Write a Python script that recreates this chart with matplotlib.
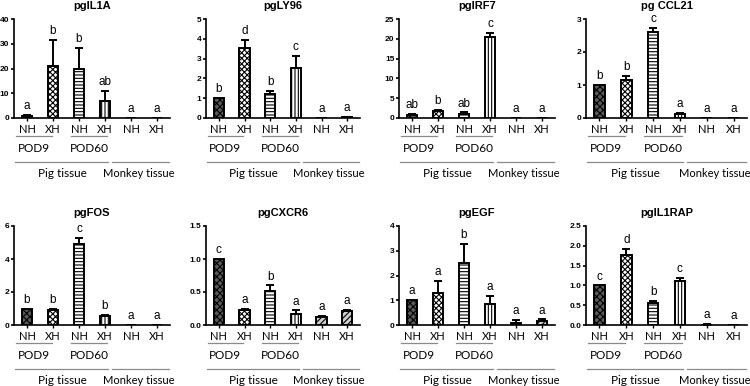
import matplotlib
matplotlib.use("Agg")
import matplotlib.pyplot as plt
import matplotlib.transforms as mtransforms

plt.rcParams['font.family'] = ['Liberation Sans', 'DejaVu Sans']
plt.rcParams['hatch.linewidth'] = 0.8

groups = ["NH", "XH", "NH", "XH", "NH", "XH"]

titles = ["pgIL1A", "pgLY96", "pgIRF7", "pg CCL21",
          "pgFOS", "pgCXCR6", "pgEGF", "pgIL1RAP"]

il1a_vals = [0.8, 21.0, 19.7, 7.0, 0.0, 0.0]
il1a_err = [0.3, 10.5, 8.6, 3.8, 0.0, 0.0]
il1a_let = ["a", "b", "b", "ab", "a", "a"]

ly96_vals = [1.0, 3.55, 1.22, 2.55, 0.0, 0.03]
ly96_err = [0.0, 0.38, 0.13, 0.6, 0.0, 0.02]
ly96_let = ["b", "d", "b", "c", "a", "a"]

irf7_vals = [0.8, 1.8, 0.9, 20.4, 0.0, 0.0]
irf7_err = [0.2, 0.2, 0.5, 1.1, 0.0, 0.0]
irf7_let = ["ab", "b", "ab", "c", "a", "a"]

ccl21_vals = [1.0, 1.15, 2.6, 0.13, 0.0, 0.0]
ccl21_err = [0.0, 0.12, 0.12, 0.03, 0.0, 0.0]
ccl21_let = ["b", "b", "c", "a", "a", "a"]

fos_vals = [1.0, 0.9, 4.9, 0.55, 0.0, 0.0]
fos_err = [0.0, 0.07, 0.4, 0.05, 0.0, 0.0]
fos_let = ["b", "b", "c", "b", "a", "a"]

cxcr6_vals = [1.0, 0.22, 0.52, 0.17, 0.12, 0.21]
cxcr6_err = [0.0, 0.02, 0.08, 0.05, 0.02, 0.02]
cxcr6_let = ["c", "a", "b", "a", "a", "a"]

egf_vals = [1.0, 1.3, 2.5, 0.85, 0.1, 0.15]
egf_err = [0.0, 0.48, 0.78, 0.33, 0.12, 0.08]
egf_let = ["a", "a", "b", "a", "a", "a"]

il1rap_vals = [1.0, 1.77, 0.55, 1.1, 0.01, 0.0]
il1rap_err = [0.0, 0.15, 0.06, 0.08, 0.01, 0.0]
il1rap_let = ["c", "d", "b", "c", "a", "a"]

ymax = [40, 5, 25, 3, 6, 1.5, 4, 2.5]
ystep = [10, 1, 5, 1, 2, 0.5, 1, 0.5]

all_vals = [il1a_vals, ly96_vals, irf7_vals, ccl21_vals,
            fos_vals, cxcr6_vals, egf_vals, il1rap_vals]
all_err = [il1a_err, ly96_err, irf7_err, ccl21_err,
           fos_err, cxcr6_err, egf_err, il1rap_err]
all_let = [il1a_let, ly96_let, irf7_let, ccl21_let,
           fos_let, cxcr6_let, egf_let, il1rap_let]

faces = ["#5a5a5a", "white", "white", "white", "#d0d0d0", "#d0d0d0"]
hatches = ["xxxxx", "xxxxxx", "-----", "|||||", "//////", "//////"]

fig = plt.figure(figsize=(7.5, 3.86), dpi=100)
W, H = 750.0, 386.0
lefts = [14, 206, 399, 586]
widths = [156, 154, 156, 161]
tops = [19, 226]
ah = 99
gfont = ['Lato', 'DejaVu Sans']

def fmt(v, step):
    if step < 1:
        return f"{v:.1f}"
    return f"{int(round(v))}"

for i in range(8):
    r, c = divmod(i, 4)
    ax = fig.add_axes([lefts[c] / W, 1 - (tops[r] + ah) / H, widths[c] / W, ah / H])
    vals = all_vals[i]
    errs = all_err[i]
    x = list(range(6))
    for xi, v, h, fcol in zip(x, vals, hatches, faces):
        ax.bar(xi, v, width=0.4, color=fcol, edgecolor="black",
               hatch=h, linewidth=1.4, zorder=2)
    for xi, v, e in zip(x, vals, errs):
        if e > 0:
            ax.errorbar(xi, v, yerr=[[0], [e]], fmt="none", ecolor="black",
                        elinewidth=1.4, capsize=3, capthick=1.4, zorder=3)
    for xi, v, e, t in zip(x, vals, errs, all_let[i]):
        ax.annotate(t, (xi, v + e), xytext=(0, 2), textcoords="offset points",
                    ha="center", va="bottom", fontsize=8.5)
    ax.set_xlim(-0.5, 5.5)
    ax.set_ylim(0, ymax[i])
    n = int(round(ymax[i] / ystep[i]))
    yt = [k * ystep[i] for k in range(n + 1)]
    ax.set_yticks(yt)
    ax.set_yticklabels([fmt(v, ystep[i]) for v in yt], fontsize=6, fontweight="bold")
    ax.set_xticks(x)
    ax.set_xticklabels(groups, fontsize=8, family=gfont)
    ax.tick_params(axis="y", length=2.5, width=1.2, pad=0.8)
    ax.tick_params(axis="x", length=2, width=1.0, pad=2)
    for s in ["top", "right"]:
        ax.spines[s].set_visible(False)
    ax.spines["left"].set_linewidth(1.2)
    ax.spines["bottom"].set_linewidth(1.2)
    ax.set_title(titles[i], fontsize=8, fontweight="bold", pad=7)
    tr = mtransforms.blended_transform_factory(ax.transData, ax.transAxes)
    lc = "#8a8a8a"
    ax.plot([-0.42, 0.95], [-0.182, -0.182], transform=tr, color=lc, lw=0.9, clip_on=False)
    ax.plot([1.68, 3.08], [-0.182, -0.182], transform=tr, color=lc, lw=0.9, clip_on=False)
    ax.text(0.25, -0.305, "POD9", transform=tr, ha="center", va="center", fontsize=8.5, family=gfont)
    ax.text(2.4, -0.305, "POD60", transform=tr, ha="center", va="center", fontsize=8.5, family=gfont)
    ax.plot([-0.45, 3.12], [-0.444, -0.444], transform=tr, color=lc, lw=0.9, clip_on=False)
    ax.plot([3.28, 5.45], [-0.444, -0.444], transform=tr, color=lc, lw=0.9, clip_on=False)
    ax.text(1.35, -0.56, "Pig tissue", transform=tr, ha="center", va="center", fontsize=8.5, family=gfont)
    ax.text(4.28, -0.56, "Monkey tissue", transform=tr, ha="center", va="center", fontsize=8, family=gfont)

fig.savefig("out.png", dpi=100)
